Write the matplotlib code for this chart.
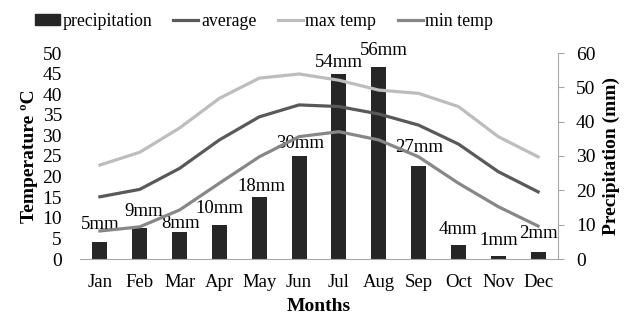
import matplotlib
matplotlib.use("Agg")
import matplotlib.pyplot as plt
from matplotlib.patches import Patch
from matplotlib.lines import Line2D
import numpy as np

months = ["Jan", "Feb", "Mar", "Apr", "May", "Jun", "Jul", "Aug", "Sep", "Oct", "Nov", "Dec"]
precipitation = [5, 9, 8, 10, 18, 30, 54, 56, 27, 4, 1, 2]
average = [15.1, 16.9, 22.0, 28.9, 34.5, 37.4, 37.0, 35.2, 32.5, 27.9, 21.2, 16.3]
max_temp = [22.8, 25.9, 31.8, 39.0, 43.9, 44.9, 43.4, 41.0, 40.2, 37.0, 29.7, 24.8]
min_temp = [6.8, 7.8, 11.9, 18.4, 24.8, 29.7, 30.9, 28.9, 24.8, 18.4, 12.7, 8.0]

# label placement tweaks (pixels above bar top, x shift in pixels)
label_dy = [17, 17, 8, 16, 11, 13, 11, 16, 19, 16, 15, 19]
label_dx = [0, 4, 1, 0, 2, 1, 0, 5, 1, 0, 0, 0]

plt.rcParams['font.family'] = ['Liberation Serif', 'DejaVu Serif']
FS = 14

fig = plt.figure(figsize=(6.34, 3.16), dpi=100)
ax = fig.add_axes([80/634, 1-259/316, (558-80)/634, (259-53)/316])
ax2 = ax.twinx()

x = np.arange(len(months))
c_bar = "#262626"
c_avg = "#595959"
c_max = "#bdbdbd"
c_min = "#878787"

ax2.bar(x, precipitation, width=0.38, color=c_bar, zorder=1)
ax2.set_ylim(0, 60)
ax2.set_yticks(range(0, 61, 10))

for i, p in enumerate(precipitation):
    ax2.annotate(f"{p}mm", (x[i], p), xytext=(label_dx[i]*0.72, label_dy[i]*0.72),
                 textcoords="offset points", ha="center", va="center", fontsize=13.5,
                 color="black", zorder=5)

ax.set_zorder(ax2.get_zorder() + 1)
ax.patch.set_visible(False)
lw = 2.3
ax.plot(x, max_temp, color=c_max, lw=lw)
ax.plot(x, average, color=c_avg, lw=lw)
ax.plot(x, min_temp, color=c_min, lw=lw)
ax.set_ylim(0, 50)
ax.set_yticks(range(0, 51, 5))
ax.set_xlim(-0.5, 11.5)
ax.set_xticks(x)
ax.set_xticklabels(months)

for a in (ax, ax2):
    for s in a.spines.values():
        s.set_visible(False)
ax.spines['bottom'].set_visible(True)
ax.spines['bottom'].set_color("#a6a6a6")
ax2.spines['right'].set_visible(True)
ax2.spines['right'].set_color("#a6a6a6")

ax.tick_params(axis='y', length=0, labelsize=FS, pad=13)
ax.tick_params(axis='x', length=0, labelsize=13.5, pad=11)
ax2.tick_params(axis='y', length=4, color="#a6a6a6", labelsize=FS, pad=9)

ax.set_xlabel("Months", fontsize=FS, fontweight="bold", labelpad=5)
ax.set_ylabel("Temperature ºC", fontsize=FS, fontweight="bold", labelpad=3)
ax2.set_ylabel("Precipitation (mm)", fontsize=FS, fontweight="bold", labelpad=5)

handles = [Patch(color=c_bar), Line2D([], [], color=c_avg, lw=lw),
           Line2D([], [], color=c_max, lw=lw), Line2D([], [], color=c_min, lw=lw)]
fig.legend(handles, ["precipitation", "average", "max temp", "min temp"],
           loc="center", bbox_to_anchor=(264/634, 1-21/316), ncol=4, frameon=False,
           fontsize=12.8, handlelength=1.4, handleheight=0.6, handletextpad=0.15,
           columnspacing=1.2)

fig.savefig("out.png", dpi=100)
